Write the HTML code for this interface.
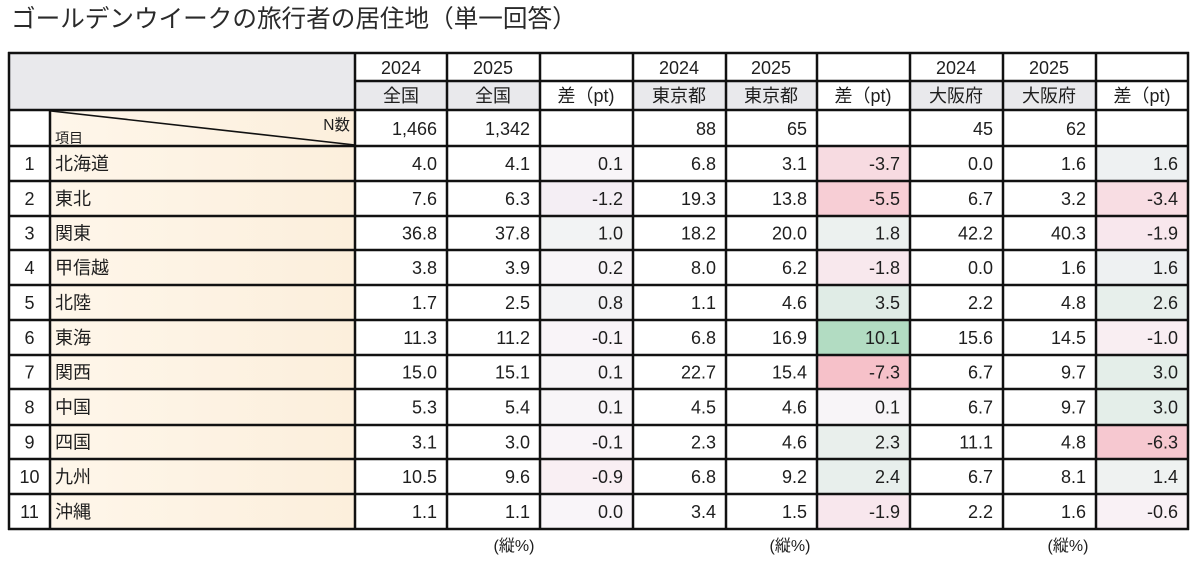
<!DOCTYPE html>
<html><head><meta charset="utf-8"><style>
html,body{margin:0;padding:0;background:#fff;}
svg{display:block;}
text{font-family:"Liberation Sans","Noto Sans CJK JP",sans-serif;fill:#1e1e1e;}
.n{font-size:18px;text-anchor:end;}
.c{font-size:18px;text-anchor:middle;}
.l{font-size:18px;text-anchor:start;}
</style></head><body>
<svg width="1200" height="562" viewBox="0 0 1200 562" xmlns="http://www.w3.org/2000/svg">
<defs>
<linearGradient id="cream" x1="0" y1="0" x2="1" y2="0">
<stop offset="0" stop-color="#fef6ea"/><stop offset="1" stop-color="#fcefdc"/>
</linearGradient>
</defs>
<rect width="1200" height="562" fill="#fff"/>
<text x="11" y="27" style="font-size:24.6px;fill:#2a2a2a;">ゴールデンウイークの旅行者の居住地（単一回答）</text>

<!-- header fills -->
<rect x="9" y="53" width="346" height="57" fill="#e9e9ec"/>
<rect x="355" y="81" width="185" height="29" fill="#e9e9ec"/>
<rect x="633" y="81" width="184" height="29" fill="#e9e9ec"/>
<rect x="910" y="81" width="186" height="29" fill="#e9e9ec"/>
<!-- item column -->
<rect x="50" y="110" width="305" height="419" fill="url(#cream)"/>

<g>
<rect x="540" y="146" width="93" height="35" fill="#f8f5f8"/>
<rect x="540" y="181" width="93" height="35" fill="#f4eef4"/>
<rect x="540" y="216" width="93" height="34" fill="#f2f3f4"/>
<rect x="540" y="250" width="93" height="35" fill="#f8f5f8"/>
<rect x="540" y="285" width="93" height="35" fill="#f3f3f5"/>
<rect x="540" y="320" width="93" height="35" fill="#f9f4f8"/>
<rect x="540" y="355" width="93" height="34" fill="#f8f5f8"/>
<rect x="540" y="389" width="93" height="36" fill="#f8f5f8"/>
<rect x="540" y="425" width="93" height="34" fill="#f9f4f8"/>
<rect x="540" y="459" width="93" height="35" fill="#f9eff3"/>
<rect x="540" y="494" width="93" height="35" fill="#f9f5f9"/>
</g>
<g>
<rect x="817" y="146" width="93" height="35" fill="#f7dbe1"/>
<rect x="817" y="181" width="93" height="35" fill="#f7ced5"/>
<rect x="817" y="216" width="93" height="34" fill="#ecf1ef"/>
<rect x="817" y="250" width="93" height="35" fill="#f8e8ed"/>
<rect x="817" y="285" width="93" height="35" fill="#e0ece6"/>
<rect x="817" y="320" width="93" height="35" fill="#b2dcc2"/>
<rect x="817" y="355" width="93" height="34" fill="#f6c1c9"/>
<rect x="817" y="389" width="93" height="36" fill="#f8f5f8"/>
<rect x="817" y="425" width="93" height="34" fill="#e9efec"/>
<rect x="817" y="459" width="93" height="35" fill="#e8efec"/>
<rect x="817" y="494" width="93" height="35" fill="#f8e7ed"/>
</g>
<g>
<rect x="1096" y="146" width="92" height="35" fill="#eef1f2"/>
<rect x="1096" y="181" width="92" height="35" fill="#f8dde3"/>
<rect x="1096" y="216" width="92" height="34" fill="#f8e7ed"/>
<rect x="1096" y="250" width="92" height="35" fill="#eef1f2"/>
<rect x="1096" y="285" width="92" height="35" fill="#e7efeb"/>
<rect x="1096" y="320" width="92" height="35" fill="#f9eef2"/>
<rect x="1096" y="355" width="92" height="34" fill="#e4eee9"/>
<rect x="1096" y="389" width="92" height="36" fill="#e4eee9"/>
<rect x="1096" y="425" width="92" height="34" fill="#f6c8d0"/>
<rect x="1096" y="459" width="92" height="35" fill="#eff2f1"/>
<rect x="1096" y="494" width="92" height="35" fill="#f9f1f5"/>
</g>

<g stroke="#111" stroke-width="2.5" fill="none">
<line x1="8" y1="53" x2="1189" y2="53"/>
<line x1="355" y1="81" x2="1189" y2="81"/>
<line x1="8" y1="110" x2="1189" y2="110"/>
<line x1="8" y1="146" x2="1189" y2="146"/>
<line x1="8" y1="181" x2="1189" y2="181"/>
<line x1="8" y1="216" x2="1189" y2="216"/>
<line x1="8" y1="250" x2="1189" y2="250"/>
<line x1="8" y1="285" x2="1189" y2="285"/>
<line x1="8" y1="320" x2="1189" y2="320"/>
<line x1="8" y1="355" x2="1189" y2="355"/>
<line x1="8" y1="389" x2="1189" y2="389"/>
<line x1="8" y1="425" x2="1189" y2="425"/>
<line x1="8" y1="459" x2="1189" y2="459"/>
<line x1="8" y1="494" x2="1189" y2="494"/>
<line x1="8" y1="529" x2="1189" y2="529"/>
<line x1="9" y1="52" x2="9" y2="530"/>
<line x1="50" y1="110" x2="50" y2="530"/>
<line x1="355" y1="52" x2="355" y2="530"/>
<line x1="447" y1="52" x2="447" y2="530"/>
<line x1="540" y1="52" x2="540" y2="530"/>
<line x1="633" y1="52" x2="633" y2="530"/>
<line x1="726" y1="52" x2="726" y2="530"/>
<line x1="817" y1="52" x2="817" y2="530"/>
<line x1="910" y1="52" x2="910" y2="530"/>
<line x1="1003" y1="52" x2="1003" y2="530"/>
<line x1="1096" y1="52" x2="1096" y2="530"/>
<line x1="1188" y1="52" x2="1188" y2="530"/>
</g>
<line x1="51" y1="111" x2="355" y2="145" stroke="#111" stroke-width="1.6"/>

<g class="c">
<text class="c" x="401" y="74">2024</text>
<text class="c" x="493" y="74">2025</text>
<text class="c" x="679" y="74">2024</text>
<text class="c" x="771" y="74">2025</text>
<text class="c" x="956" y="74">2024</text>
<text class="c" x="1049" y="74">2025</text>
<text class="c" x="401" y="102">全国</text>
<text class="c" x="493" y="102">全国</text>
<text class="c" x="586" y="102">差（pt)</text>
<text class="c" x="679" y="102">東京都</text>
<text class="c" x="771" y="102">東京都</text>
<text class="c" x="863" y="102">差（pt)</text>
<text class="c" x="956" y="102">大阪府</text>
<text class="c" x="1049" y="102">大阪府</text>
<text class="c" x="1142" y="102">差（pt)</text>
</g>
<text x="350" y="130" style="font-size:15.5px;text-anchor:end;">N数</text>
<text x="55" y="143" style="font-size:14px;">項目</text>
<text class="n" x="437" y="135">1,466</text>
<text class="n" x="530" y="135">1,342</text>
<text class="n" x="716" y="135">88</text>
<text class="n" x="807" y="135">65</text>
<text class="n" x="993" y="135">45</text>
<text class="n" x="1086" y="135">62</text>

<g>
<text class="c" x="29.5" y="170">1</text><text class="l" x="55" y="170">北海道</text>
<text class="n" x="437" y="170">4.0</text><text class="n" x="530" y="170">4.1</text><text class="n" x="623" y="170">0.1</text>
<text class="n" x="716" y="170">6.8</text><text class="n" x="807" y="170">3.1</text><text class="n" x="900" y="170">-3.7</text>
<text class="n" x="993" y="170">0.0</text><text class="n" x="1086" y="170">1.6</text><text class="n" x="1178" y="170">1.6</text>

<text class="c" x="29.5" y="205">2</text><text class="l" x="55" y="205">東北</text>
<text class="n" x="437" y="205">7.6</text><text class="n" x="530" y="205">6.3</text><text class="n" x="623" y="205">-1.2</text>
<text class="n" x="716" y="205">19.3</text><text class="n" x="807" y="205">13.8</text><text class="n" x="900" y="205">-5.5</text>
<text class="n" x="993" y="205">6.7</text><text class="n" x="1086" y="205">3.2</text><text class="n" x="1178" y="205">-3.4</text>

<text class="c" x="29.5" y="239.5">3</text><text class="l" x="55" y="239.5">関東</text>
<text class="n" x="437" y="239.5">36.8</text><text class="n" x="530" y="239.5">37.8</text><text class="n" x="623" y="239.5">1.0</text>
<text class="n" x="716" y="239.5">18.2</text><text class="n" x="807" y="239.5">20.0</text><text class="n" x="900" y="239.5">1.8</text>
<text class="n" x="993" y="239.5">42.2</text><text class="n" x="1086" y="239.5">40.3</text><text class="n" x="1178" y="239.5">-1.9</text>

<text class="c" x="29.5" y="274">4</text><text class="l" x="55" y="274">甲信越</text>
<text class="n" x="437" y="274">3.8</text><text class="n" x="530" y="274">3.9</text><text class="n" x="623" y="274">0.2</text>
<text class="n" x="716" y="274">8.0</text><text class="n" x="807" y="274">6.2</text><text class="n" x="900" y="274">-1.8</text>
<text class="n" x="993" y="274">0.0</text><text class="n" x="1086" y="274">1.6</text><text class="n" x="1178" y="274">1.6</text>

<text class="c" x="29.5" y="309">5</text><text class="l" x="55" y="309">北陸</text>
<text class="n" x="437" y="309">1.7</text><text class="n" x="530" y="309">2.5</text><text class="n" x="623" y="309">0.8</text>
<text class="n" x="716" y="309">1.1</text><text class="n" x="807" y="309">4.6</text><text class="n" x="900" y="309">3.5</text>
<text class="n" x="993" y="309">2.2</text><text class="n" x="1086" y="309">4.8</text><text class="n" x="1178" y="309">2.6</text>

<text class="c" x="29.5" y="344">6</text><text class="l" x="55" y="344">東海</text>
<text class="n" x="437" y="344">11.3</text><text class="n" x="530" y="344">11.2</text><text class="n" x="623" y="344">-0.1</text>
<text class="n" x="716" y="344">6.8</text><text class="n" x="807" y="344">16.9</text><text class="n" x="900" y="344">10.1</text>
<text class="n" x="993" y="344">15.6</text><text class="n" x="1086" y="344">14.5</text><text class="n" x="1178" y="344">-1.0</text>

<text class="c" x="29.5" y="378.5">7</text><text class="l" x="55" y="378.5">関西</text>
<text class="n" x="437" y="378.5">15.0</text><text class="n" x="530" y="378.5">15.1</text><text class="n" x="623" y="378.5">0.1</text>
<text class="n" x="716" y="378.5">22.7</text><text class="n" x="807" y="378.5">15.4</text><text class="n" x="900" y="378.5">-7.3</text>
<text class="n" x="993" y="378.5">6.7</text><text class="n" x="1086" y="378.5">9.7</text><text class="n" x="1178" y="378.5">3.0</text>

<text class="c" x="29.5" y="413.5">8</text><text class="l" x="55" y="413.5">中国</text>
<text class="n" x="437" y="413.5">5.3</text><text class="n" x="530" y="413.5">5.4</text><text class="n" x="623" y="413.5">0.1</text>
<text class="n" x="716" y="413.5">4.5</text><text class="n" x="807" y="413.5">4.6</text><text class="n" x="900" y="413.5">0.1</text>
<text class="n" x="993" y="413.5">6.7</text><text class="n" x="1086" y="413.5">9.7</text><text class="n" x="1178" y="413.5">3.0</text>

<text class="c" x="29.5" y="448.5">9</text><text class="l" x="55" y="448.5">四国</text>
<text class="n" x="437" y="448.5">3.1</text><text class="n" x="530" y="448.5">3.0</text><text class="n" x="623" y="448.5">-0.1</text>
<text class="n" x="716" y="448.5">2.3</text><text class="n" x="807" y="448.5">4.6</text><text class="n" x="900" y="448.5">2.3</text>
<text class="n" x="993" y="448.5">11.1</text><text class="n" x="1086" y="448.5">4.8</text><text class="n" x="1178" y="448.5">-6.3</text>

<text class="c" x="29.5" y="483">10</text><text class="l" x="55" y="483">九州</text>
<text class="n" x="437" y="483">10.5</text><text class="n" x="530" y="483">9.6</text><text class="n" x="623" y="483">-0.9</text>
<text class="n" x="716" y="483">6.8</text><text class="n" x="807" y="483">9.2</text><text class="n" x="900" y="483">2.4</text>
<text class="n" x="993" y="483">6.7</text><text class="n" x="1086" y="483">8.1</text><text class="n" x="1178" y="483">1.4</text>

<text class="c" x="29.5" y="518">11</text><text class="l" x="55" y="518">沖縄</text>
<text class="n" x="437" y="518">1.1</text><text class="n" x="530" y="518">1.1</text><text class="n" x="623" y="518">0.0</text>
<text class="n" x="716" y="518">3.4</text><text class="n" x="807" y="518">1.5</text><text class="n" x="900" y="518">-1.9</text>
<text class="n" x="993" y="518">2.2</text><text class="n" x="1086" y="518">1.6</text><text class="n" x="1178" y="518">-0.6</text>
</g>

<text x="514" y="551" style="font-size:16px;text-anchor:middle;">(縦%)</text>
<text x="790" y="551" style="font-size:16px;text-anchor:middle;">(縦%)</text>
<text x="1068" y="551" style="font-size:16px;text-anchor:middle;">(縦%)</text>
</svg>
</body></html>
